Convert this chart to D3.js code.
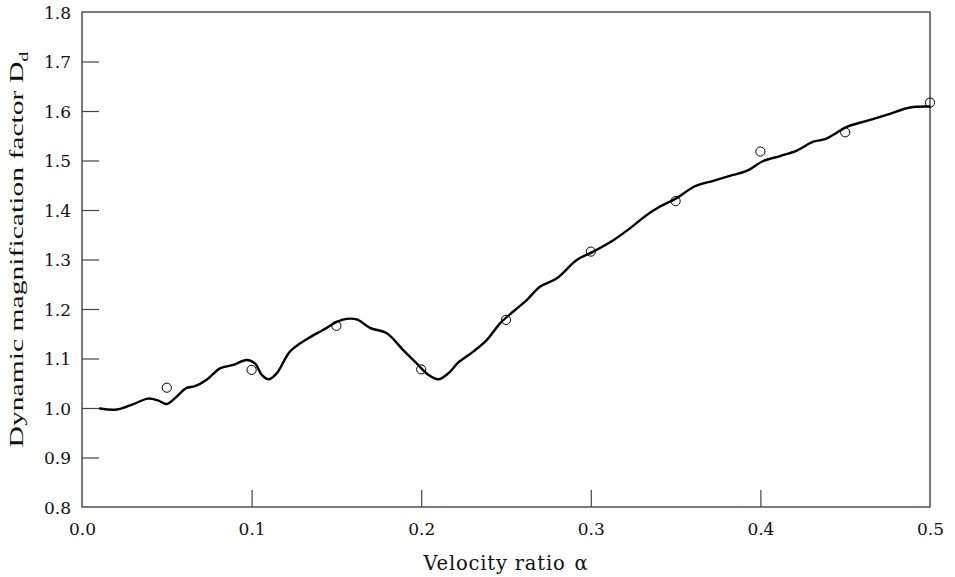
<!DOCTYPE html>
<html>
<head>
<meta charset="utf-8">
<script src="https://cdn.jsdelivr.net/npm/d3@7"></script>
<style>
  html, body { margin: 0; padding: 0; background: #fff; }
  svg { display: block; }
</style>
</head>
<body>
<svg id="chart" width="955" height="577"></svg>
<script>
// ---- data ----
const curveAlpha = [0.0106,0.0205,0.0303,0.039,0.045,0.050,0.0558,0.0613,0.0666,0.0735,0.0814,0.0892,0.0971,0.102,0.106,0.110,0.1148,0.1226,0.1325,0.1423,0.1502,0.156,0.162,0.1698,0.1797,0.1894,0.1973,0.2042,0.2101,0.216,0.2219,0.2307,0.2386,0.2465,0.2543,0.2622,0.270,0.280,0.2917,0.3015,0.3133,0.3231,0.333,0.3408,0.3506,0.3614,0.3722,0.382,0.3919,0.4017,0.4116,0.4214,0.4312,0.4381,0.443,0.4509,0.4627,0.4744,0.4882,0.4996];
const curveD = [0.999,0.997,1.008,1.019,1.015,1.008,1.023,1.040,1.044,1.057,1.080,1.087,1.097,1.090,1.067,1.058,1.070,1.114,1.139,1.158,1.174,1.180,1.179,1.162,1.151,1.117,1.090,1.067,1.058,1.070,1.092,1.114,1.137,1.171,1.195,1.218,1.245,1.262,1.299,1.316,1.339,1.363,1.390,1.407,1.424,1.448,1.459,1.469,1.479,1.499,1.509,1.520,1.538,1.543,1.552,1.568,1.580,1.592,1.607,1.609];
const expAlpha = [0.05,0.10,0.15,0.20,0.25,0.30,0.35,0.40,0.45,0.50];
const expD = [1.041,1.077,1.166,1.078,1.178,1.316,1.418,1.518,1.557,1.617];
const xTicks = [0.0,0.1,0.2,0.3,0.4,0.5];
const yTicks = [0.8,0.9,1.0,1.1,1.2,1.3,1.4,1.5,1.6,1.7,1.8];
const xLabelMain = "Velocity ratio";
const xLabelSym = "\u03B1";
const yLabelMain = "Dynamic magnification factor D";
const yLabelSub = "d";

// ---- layout ----
const svg = d3.select("#chart");
const mLeft = 82, mRight = 930, mTop = 12, mBottom = 507;
const x = d3.scaleLinear().domain([0, 0.5]).range([mLeft, mRight]);
const y = d3.scaleLinear().domain([0.8, 1.8]).range([mBottom, mTop]);
const axisColor = "#444";
const tickFont = "'DejaVu Serif', serif";

// frame
const g = svg.append("g");
g.append("rect").attr("x", mLeft).attr("y", mTop)
  .attr("width", mRight - mLeft).attr("height", mBottom - mTop)
  .attr("fill", "none").attr("stroke", axisColor).attr("stroke-width", 1.4);

// x axis (ticks inward)
const xAxis = d3.axisBottom(x).tickValues(xTicks).tickSize(-17).tickPadding(0)
  .tickFormat(d3.format(".1f"));
const xg = g.append("g").attr("transform", `translate(0,${mBottom})`).call(xAxis);
xg.select(".domain").remove();
xg.selectAll(".tick line").attr("stroke", axisColor).attr("stroke-width", 1.2)
  .attr("display", d => (d === 0 || d === 0.5) ? "none" : null);
xg.selectAll(".tick text").attr("y", 28).attr("dy", 0)
  .attr("font-family", tickFont).attr("font-size", 17).attr("fill", "#111");

// y axis (ticks inward)
const yAxis = d3.axisLeft(y).tickValues(yTicks).tickSize(-17).tickPadding(0)
  .tickFormat(d3.format(".1f"));
const yg = g.append("g").attr("transform", `translate(${mLeft},0)`).call(yAxis);
yg.select(".domain").remove();
yg.selectAll(".tick line").attr("stroke", axisColor).attr("stroke-width", 1.2)
  .attr("display", d => (Math.abs(d - 0.8) < 1e-9 || Math.abs(d - 1.8) < 1e-9) ? "none" : null);
yg.selectAll(".tick text").attr("x", -11).attr("dy", "0.36em")
  .attr("font-family", tickFont).attr("font-size", 17).attr("fill", "#111");

// curve
const pts = curveAlpha.map((a, i) => [a, curveD[i]]);
const line = d3.line().x(d => x(d[0])).y(d => y(d[1])).curve(d3.curveCatmullRom.alpha(0.5));
svg.append("path").datum(pts).attr("d", line)
  .attr("fill", "none").attr("stroke", "#000").attr("stroke-width", 2.4)
  .attr("stroke-linejoin", "round").attr("stroke-linecap", "round");

// experimental points
svg.append("g").selectAll("circle").data(expAlpha.map((a, i) => [a, expD[i]]))
  .join("circle")
  .attr("cx", d => x(d[0])).attr("cy", d => y(d[1])).attr("r", 4.6)
  .attr("fill", "none").attr("stroke", "#000").attr("stroke-width", 1);

// x label
const xl = svg.append("text").attr("x", (mLeft + mRight) / 2).attr("y", 570)
  .attr("text-anchor", "middle").attr("font-family", tickFont)
  .attr("font-size", 19.5).attr("letter-spacing", 0.8).attr("fill", "#111");
xl.append("tspan").text(xLabelMain);
xl.append("tspan").attr("dx", 9).text(xLabelSym);

// y label (stretched along reading direction like the reference)
const yl = svg.append("text")
  .attr("transform", `translate(23,${(mTop + mBottom) / 2 - 10}) rotate(-90) scale(1.56,1)`)
  .attr("text-anchor", "middle")
  .attr("font-family", "'Liberation Serif', 'Times New Roman', serif")
  .attr("font-size", 19).attr("fill", "#111");
yl.append("tspan").text(yLabelMain);
yl.append("tspan").attr("dy", 5).attr("font-size", 13).text(yLabelSub);
</script>
</body>
</html>
